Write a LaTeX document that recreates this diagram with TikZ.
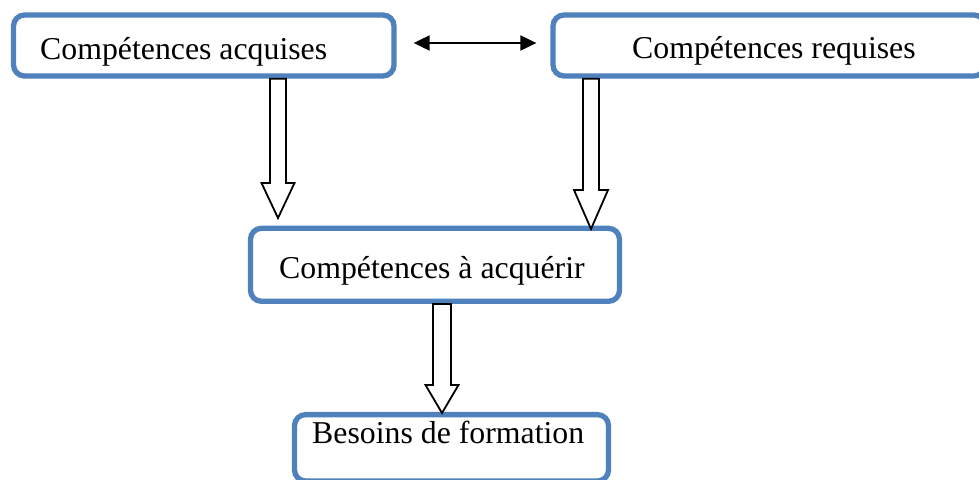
\documentclass[tikz,border=0pt]{standalone}
\usepackage{fontspec}
\setmainfont{Liberation Serif}
\usetikzlibrary{calc,arrows.meta}
\definecolor{boxblue}{HTML}{4F81BD}
\tikzset{
  box/.style={draw=boxblue, line width=5.3pt, rounded corners=11pt, fill=white, inner sep=0pt},
  boxtext/.style={inner sep=0pt, anchor=base west, font=\fontsize{31.8}{38}\selectfont},
  hollowarrow/.style={draw=black, line width=1.8pt, fill=white, line join=miter},
  link/.style={line width=2pt, {Triangle[length=16pt,width=15pt]}-{Triangle[length=16pt,width=15pt]}},
}
% vertical hollow block arrow: #1 start, #2 tip, #3 half shaft width,
% #4 half head width, #5 head length
\newcommand\blockarrow[5]{%
  \draw[hollowarrow] let \p1=(#1), \p2=(#2) in
    (\x2-#3,\y1) -- (\x2-#3,\y2+#5) -- (\x2-#4,\y2+#5) -- (\x2,\y2)
    -- (\x2+#4,\y2+#5) -- (\x2+#3,\y2+#5) -- (\x2+#3,\y1) -- cycle;}
\begin{document}
\begin{tikzpicture}[x=1pt,y=-1pt]
\useasboundingbox (0,0) rectangle (979,479);
\clip (0,0) rectangle (979,479);

% boxes
\node[box, minimum width=380.5pt, minimum height=61pt] (acq) at (203.75,45.5) {};
\node[box, minimum width=432pt, minimum height=61pt] (req) at (769,45.5) {};
\node[box, minimum width=369pt, minimum height=73pt] (aqr) at (435,264.8) {};
\node[box, minimum width=314pt, minimum height=66.4pt] (bes) at (451.5,447.8) {};

% texts
\node[boxtext] (acqtext) at (40,59) {Compétences acquises};
\node[boxtext] (reqtext) at (632,58) {Compétences requises};
\node[boxtext] (aqrtext) at (279,278) {Compétences à acquérir};
\node[boxtext] (bestext) at (312,443) {Besoins de formation};

% two-way link between the top boxes
\draw[link, shorten <=17pt, shorten >=14pt] ([yshift=2.5pt]acq.east) -- ([yshift=2.5pt]req.west);

% hollow arrows
\coordinate (tipA) at (278,218);
\coordinate (tipB) at (591,229);
\coordinate (tipC) at (442,413);
\blockarrow{acq.south -| tipA}{tipA}{8pt}{16.5pt}{35pt}
\blockarrow{req.south -| tipB}{tipB}{8pt}{17pt}{39pt}
\blockarrow{aqr.south -| tipC}{tipC}{9pt}{16.5pt}{28pt}
\end{tikzpicture}
\end{document}
